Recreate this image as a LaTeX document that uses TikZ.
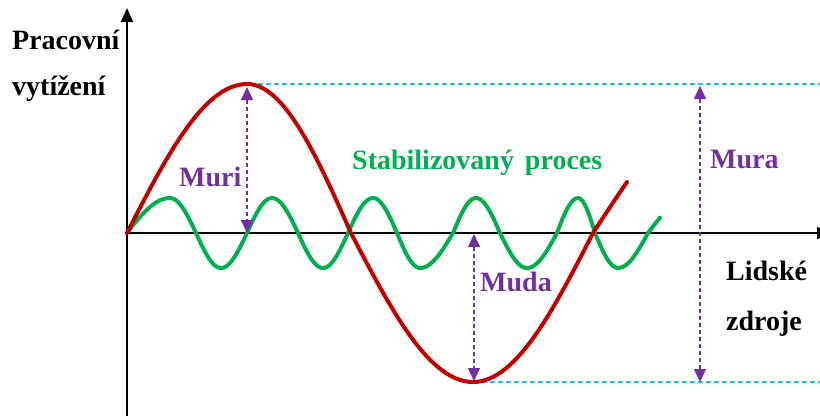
\documentclass[tikz,border=0pt]{standalone}
\usepackage{fontspec}
\setmainfont{Liberation Serif}
\usetikzlibrary{arrows.meta}
\definecolor{curvered}{RGB}{192,0,0}
\definecolor{curvegreen}{RGB}{0,176,80}
\definecolor{mupurple}{RGB}{112,48,160}
\definecolor{guidecyan}{RGB}{40,190,240}
\begin{document}
\begin{tikzpicture}[x=1pt,y=-1pt,
  lbl/.style={font=\fontsize{28}{33}\selectfont\bfseries, inner sep=0pt, anchor=base west},
  axisline/.style={line width=2pt, black, -{Triangle[length=14pt,width=12pt]}},
  redcurve/.style={line width=4pt, curvered, line join=round, line cap=round},
  greencurve/.style={line width=4pt, curvegreen, line join=round, line cap=round},
  guide/.style={line width=1.2pt, guidecyan, dash pattern=on 5pt off 3pt},
  muarrow/.style={line width=1.4pt, mupurple, dash pattern=on 4pt off 3pt,
    {Triangle[length=13pt,width=12pt]}-{Triangle[length=13pt,width=12pt]}}]
\useasboundingbox (0,0) rectangle (820,416);
% axes
\coordinate (ybot) at (127,416);
\coordinate (ytop) at (127,8);
\coordinate (xleft) at (127,233);
\coordinate (xright) at (831,233);
\draw[axisline] (ybot) -- (ytop);
\draw[axisline] (xleft) -- (xright);
% guide lines
\coordinate (gtopA) at (258,84);
\coordinate (gtopB) at (820,84);
\coordinate (gbotA) at (474,382);
\coordinate (gbotB) at (820,382);
\draw[guide] (gtopA) -- (gtopB);
\draw[guide] (gbotA) -- (gbotB);
% green curve
\draw[greencurve] (127,233)
  \foreach \a/\b/\p/\d in {127/170/0/90,170/196/90/90,196/221/180/90,221/247/270/90,
     247/272/0/90,272/298/90/90,298/323/180/90,323/348/270/90,
     348/373/0/90,373/397/90/90,397/420/180/90,420/453/270/90,
     453/476/0/90,476/500/90/90,500/527/180/90,527/557/270/90,
     557/578/0/90,578/595/90/90,595/618/180/90,618/648/270/90,648/660/0/26}
  { -- plot[domain=0:1,variable=\t,samples=14] ({\a+(\b-\a)*\t},{233-35*sin(\p+\d*\t)}) };
% red curve
\draw[redcurve] (127,233)
  \foreach \a/\b/\p/\d in {127/247/0/90,247/351/90/90,351/473/180/90,473/593/270/90,593/627/0/20}
  { -- plot[domain=0:1,variable=\t,samples=30] ({\a+(\b-\a)*\t},{233-149*sin(\p+\d*\t)}) };
% measurement arrows
\coordinate (muriT) at (247,87);
\coordinate (muriB) at (247,233);
\coordinate (mudaT) at (474,234);
\coordinate (mudaB) at (474,381);
\coordinate (muraT) at (700,86);
\coordinate (muraB) at (700,382);
\draw[muarrow] (muriT) -- (muriB);
\draw[muarrow] (mudaT) -- (mudaB);
\draw[muarrow] (muraT) -- (muraB);
% labels
\node[lbl] (ylab1) at (12,49) {Pracovní};
\node[lbl] (ylab2) at (12,95) {vytížení};
\node[lbl, text=mupurple] (muri) at (179,186) {Muri};
\node[lbl, text=curvegreen] (stab) at (352,169) {Stabilizovaný\hspace{4pt} proces};
\node[lbl, text=mupurple] (muda) at (480,291) {Muda};
\node[lbl, text=mupurple] (mura) at (710,168) {Mura};
\node[lbl] (xlab1) at (726,280) {Lidské};
\node[lbl] (xlab2) at (726,330) {zdroje};
\end{tikzpicture}
\end{document}
